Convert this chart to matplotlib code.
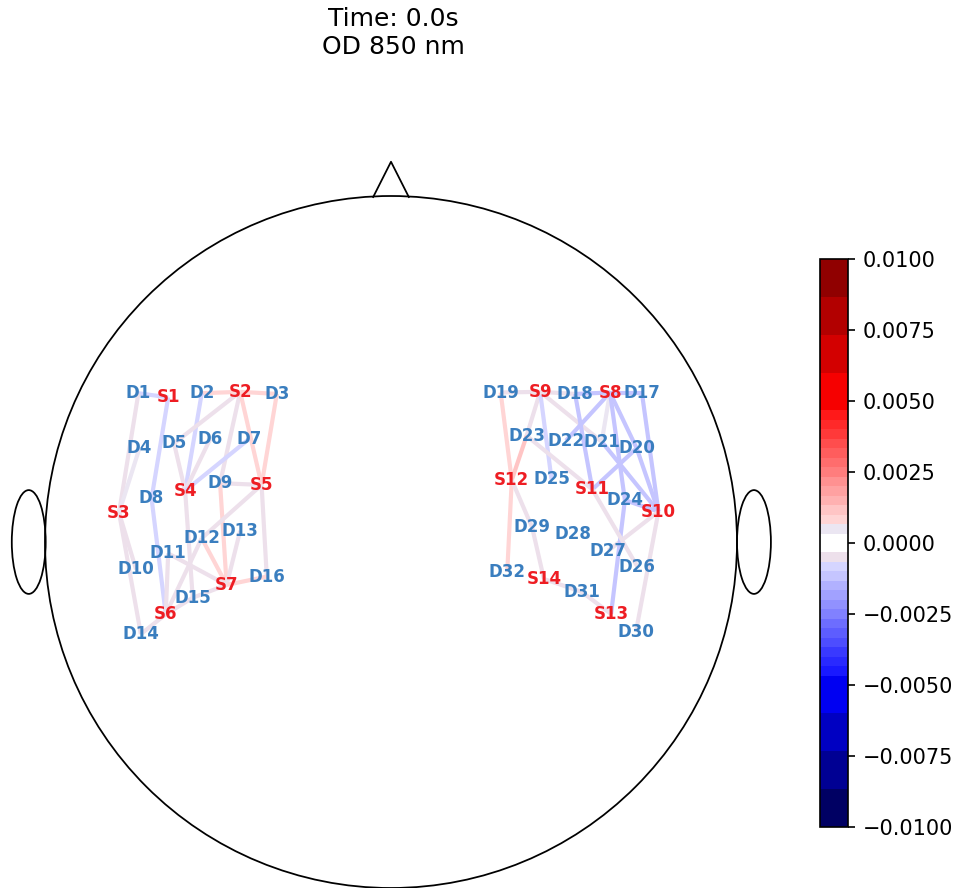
import numpy as np
import matplotlib
matplotlib.use("Agg")
import matplotlib.pyplot as plt
from matplotlib.colors import ListedColormap, BoundaryNorm
from matplotlib.collections import LineCollection
from matplotlib.patches import Circle, Ellipse
from matplotlib.cm import ScalarMappable
from matplotlib.ticker import FuncFormatter

# ---------------- data ----------------
title_lines = ["Time: 0.0s", "OD 850 nm"]

# optode positions (head radius = 1, centre = 0)
optode_names = [
    "D1", "S1", "D2", "S2", "D3", "D4", "D5", "D6", "D7", "S4", "D9", "S5",
    "D8", "S3", "D13", "D12", "D11", "D10", "S7", "D16", "D15", "S6", "D14",
    "D19", "S9", "D18", "S8", "D17", "D23", "D22", "D21", "D20", "S12", "D25",
    "S11", "D24", "S10", "D29", "D28", "D27", "D26", "D32", "S14", "D31", "S13", "D30",
]
optode_x = [
    -0.730, -0.644, -0.547, -0.436, -0.330, -0.727, -0.627, -0.523, -0.410, -0.595, -0.494, -0.374,
    -0.692, -0.786, -0.436, -0.547, -0.644, -0.737, -0.475, -0.359, -0.573, -0.651, -0.723,
    0.317, 0.431, 0.532, 0.633, 0.725, 0.392, 0.506, 0.609, 0.710, 0.349, 0.464,
    0.582, 0.676, 0.773, 0.408, 0.525, 0.628, 0.712, 0.336, 0.442, 0.551, 0.636, 0.708,
]
optode_y = [
    0.430, 0.418, 0.430, 0.434, 0.428, 0.271, 0.285, 0.297, 0.298, 0.148, 0.170, 0.165,
    0.126, 0.085, 0.032, 0.011, -0.033, -0.079, -0.124, -0.100, -0.161, -0.209, -0.266,
    0.432, 0.434, 0.428, 0.432, 0.432, 0.307, 0.293, 0.290, 0.271, 0.179, 0.181,
    0.152, 0.121, 0.088, 0.042, 0.022, -0.025, -0.071, -0.086, -0.107, -0.144, -0.208, -0.259,
]

# channels (source, detector) and their values
chan_a = [
    "S1", "S1", "S3", "S3", "S3", "S3", "S6", "S2", "S2", "S4", "S2", "S2", "S2", "S5",
    "S4", "S4", "S4", "S5", "S7", "S5", "S5", "S4", "S7", "S7", "S7", "S7", "S7",
    "S6", "S6", "S6", "S6",
    "S9", "S12", "S9", "S12", "S9", "S9", "S11", "S9", "S8", "S11", "S8", "S8", "S8",
    "S8", "S8", "S10", "S10", "S11", "S10", "S10", "S10", "S10", "S13", "S11", "S13",
    "S14", "S12", "S14", "S12",
]
chan_b = [
    "D1", "D8", "D1", "D4", "D10", "D14", "D8", "D2", "D3", "D2", "D5", "D9", "S5", "D3",
    "D5", "D6", "D7", "D9", "D9", "D16", "D12", "D15", "D12", "D13", "D16", "D15", "D11",
    "D12", "D11", "D14", "D15",
    "D19", "D19", "D23", "D23", "D25", "D21", "D23", "D18", "D18", "D18", "D17", "D22", "D21",
    "D24", "D20", "D17", "D20", "D20", "D21", "D24", "D27", "D30", "D24", "D26", "D31",
    "D31", "D32", "D29", "D29",
]
chan_val = [
    -0.0008, -0.0009, -0.0005, 0.0005, -0.0005, -0.0005, -0.0009, 0.0009, 0.0009, -0.0009, -0.0005, -0.0005, 0.0009, 0.0009,
    -0.0005, -0.0005, -0.0009, -0.0005, 0.0009, -0.0005, -0.0005, -0.0005, 0.0009, -0.0005, 0.0009, -0.0005, -0.0005,
    -0.0005, -0.0005, -0.0005, -0.0005,
    -0.0005, 0.0009, -0.0005, 0.0011, -0.0009, -0.0005, -0.0005, -0.0005, -0.0011, -0.0011, -0.0011, -0.0011, 0.0005,
    -0.0013, -0.0011, -0.0011, -0.0011, -0.0011, -0.0011, -0.0011, -0.0005, -0.0005, -0.0013, -0.0005, -0.0005,
    -0.0005, 0.0009, -0.0005, -0.0005,
]

cbar_ticks = [-0.01, -0.0075, -0.005, -0.0025, 0.0, 0.0025, 0.005, 0.0075, 0.01]
vmin, vmax = -0.01, 0.01

# ---------------- colour map (banded seismic) ----------------
unit = vmax / 30.0
bounds_units = [-30, -26, -22, -18] + list(range(-14, 0)) + list(range(1, 15)) + [18, 22, 26, 30]
bounds = np.array(bounds_units) * unit
seis = plt.get_cmap("seismic")
band_colors = []
for lo, hi in zip(bounds[:-1], bounds[1:]):
    c = 0.5 * (lo + hi)
    if abs(c) < unit * 0.9:
        band_colors.append((1.0, 1.0, 1.0))
    elif lo >= unit * 0.99 and hi <= 2.01 * unit:
        band_colors.append((0.92, 0.90, 0.95))
    elif hi <= -unit * 0.99 and lo >= -2.01 * unit:
        band_colors.append((0.93, 0.88, 0.92))
    else:
        band_colors.append(seis(0.5 + 0.5 * c / vmax)[:3])
cmap = ListedColormap(band_colors)
norm = BoundaryNorm(bounds, cmap.N)

# ---------------- figure ----------------
W, H, DPI = 959, 888, 150
fig = plt.figure(figsize=(W / DPI, H / DPI), dpi=DPI)

R_PX = 346.0
CX, CY = 391.0, 542.0
ax = fig.add_axes([0, 0, 1, 1])
ax.set_xlim((0 - CX) / R_PX, (W - CX) / R_PX)
ax.set_ylim((CY - H) / R_PX, CY / R_PX)
ax.set_aspect("equal")
ax.axis("off")

# head outline
ax.add_patch(Circle((0, 0), 1.0, fill=False, ec="black", lw=0.85, zorder=2))
ax.plot([-0.0515, 0.0, 0.0515], [0.997, 1.099, 0.997], color="black", lw=0.85, zorder=2)
for ex in (-1.047, 1.049):
    ax.add_patch(Ellipse((ex, 0.0), 0.098, 0.300, fill=False, ec="black", lw=0.85, zorder=2))

pos = {n: (x, y) for n, x, y in zip(optode_names, optode_x, optode_y)}
segs = [[pos[a], pos[b]] for a, b in zip(chan_a, chan_b)]
lc = LineCollection(segs, colors=cmap(norm(np.array(chan_val))), linewidths=2.0, zorder=3)
ax.add_collection(lc)

for n in optode_names:
    x, y = pos[n]
    col = "#ee1d23" if n.startswith("S") else "#3a7ebf"
    ax.text(x, y, n, color=col, fontsize=8, fontweight="bold",
            ha="center", va="center", zorder=4)

fig.text(393 / W, 1 - 33 / H, "\n".join(title_lines), ha="center", va="center",
         fontsize=12, linespacing=1.2)

# colorbar
cax = fig.add_axes([820 / W, (H - 827) / H, 28 / W, (827 - 259) / H])
sm = ScalarMappable(norm=norm, cmap=cmap)
cb = fig.colorbar(sm, cax=cax, ticks=cbar_ticks, spacing="proportional")
cb.minorticks_off()
cb.ax.yaxis.set_major_formatter(FuncFormatter(lambda v, p: f"{v:.4f}".replace("-", "\u2212")))
cb.ax.tick_params(labelsize=10)

fig.savefig("out.png", dpi=DPI)
